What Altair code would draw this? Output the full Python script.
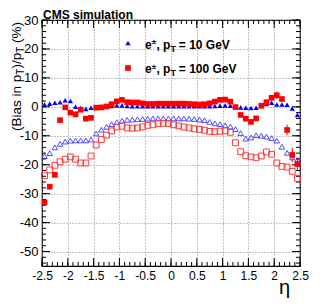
import altair as alt
import pandas as pd

# ---------------- data ----------------
eta = [-2.45, -2.35, -2.25, -2.15, -2.05, -1.95, -1.85, -1.75, -1.65, -1.55,
       -1.45, -1.35, -1.25, -1.15, -1.05, -0.95, -0.85, -0.75, -0.65, -0.55,
       -0.45, -0.35, -0.25, -0.15, -0.05, 0.05, 0.15, 0.25, 0.35, 0.45,
       0.55, 0.65, 0.75, 0.85, 0.95, 1.05, 1.15, 1.25, 1.35, 1.45,
       1.55, 1.65, 1.75, 1.85, 1.95, 2.05, 2.15, 2.25, 2.35, 2.45]

bias_10 = [0.8, 1.1, 1.4, 1.6, 2.3, 2.0, 0.0, -0.4, -0.7, -0.3,
           -0.2, 0.0, 0.2, 0.3, 0.5, 0.5, 0.3, 0.2, 0.2, 0.2,
           0.2, 0.2, 0.2, 0.2, 0.2, 0.2, 0.2, 0.2, 0.2, 0.2,
           0.2, 0.2, 0.2, 0.3, 0.4, 0.5, 0.4, 0.1, -0.2, -0.3,
           -0.4, -0.3, 0.3, 1.0, 1.4, 0.8, 0.8, 0.7, -0.6, -2.8]

bias_100 = [-33.0, -27.6, -23.5, -4.6, -0.2, -2.0, -2.6, -1.0, -4.1, -3.8,
            -0.3, -0.2, 0.1, 0.9, 1.9, 2.4, 1.6, 1.5, 1.5, 1.2,
            1.0, 1.0, 1.1, 1.1, 1.1, 1.1, 1.1, 1.1, 1.0, 0.9,
            0.8, 0.9, 1.2, 1.8, 2.4, 2.5, 1.8, -0.1, -2.8, -4.1,
            -5.2, -4.0, 0.4, 1.6, 3.1, 4.0, 2.7, -8.0, -16.6, -19.8]

err_100 = [0.0, 0.0, 0.0, 0.0, 0.0, 0.8, 1.0, 0.0, 0.6, 0.0,
           0.0, 0.0, 0.0, 0.0, 0.0, 0.0, 0.0, 0.0, 0.0, 0.0,
           0.0, 0.0, 0.0, 0.0, 0.0, 0.0, 0.0, 0.0, 0.0, 0.0,
           0.0, 0.0, 0.0, 0.0, 0.0, 0.0, 0.0, 0.0, 0.0, 0.0,
           0.0, 0.0, 0.0, 0.0, 0.0, 1.3, 0.8, 1.8, 2.5, 2.2]

bias_10_open = [-17.0, -16.0, -14.0, -12.8, -12.0, -11.7, -11.6, -11.6, -11.6, -11.3,
                -9.2, -7.9, -6.9, -6.0, -5.3, -4.8, -4.5, -4.4, -4.3, -4.2,
                -4.1, -4.0, -4.0, -4.0, -4.0, -4.0, -4.0, -4.0, -4.1, -4.2,
                -4.4, -4.6, -5.2, -5.7, -6.0, -6.4, -6.8, -7.7, -9.1, -11.0,
                -10.6, -9.8, -10.0, -10.3, -10.8, -11.7, -13.8, -15.9, -17.5, -18.3]

bias_100_open = [-23.8, -21.8, -20.2, -19.0, -18.1, -17.3, -18.1, -19.4, -19.4, -17.0,
                 -13.2, -11.3, -9.8, -8.3, -7.0, -6.7, -7.3, -7.4, -7.3, -6.9,
                 -6.4, -6.2, -5.8, -5.7, -5.8, -6.2, -6.6, -7.0, -7.3, -7.6,
                 -7.8, -8.1, -8.5, -8.6, -8.4, -8.3, -8.8, -12.4, -15.5, -16.9,
                 -17.3, -17.6, -17.0, -15.6, -16.4, -19.4, -20.6, -20.8, -22.3, -24.7]

x_major = [-2.5, -2.0, -1.5, -1.0, -0.5, 0.0, 0.5, 1.0, 1.5, 2.0, 2.5]
y_major = [-50, -40, -30, -20, -10, 0, 10, 20, 30]
x_minor = [round(-2.5 + 0.1 * i, 2) for i in range(51)]
y_minor = list(range(-54, 31, 2))

# ---------------- layout ----------------
W, H = 258, 246
FONT = "Liberation Sans"

df = pd.DataFrame({"eta": eta, "b10": bias_10, "b100": bias_100, "err": err_100,
                   "b10o": bias_10_open, "b100o": bias_100_open})
df["lo"] = df["b100"] - df["err"]
df["hi"] = df["b100"] + df["err"]

xs = alt.Scale(domain=[-2.5, 2.5], nice=False, zero=False)
ys = alt.Scale(domain=[-55, 30], nice=False, zero=False)

x_axis = alt.Axis(values=x_major, labelExpr="datum.value + ''", grid=True,
                  gridDash=[1, 2], gridColor="#8a8a8a", gridWidth=1,
                  ticks=False, domain=False, labelFont=FONT, labelFontSize=12,
                  labelColor="black", labelPadding=4, labelFlush=False,
                  labelOverlap=False, title=None)
y_axis = alt.Axis(values=y_major, labelExpr="datum.value + ''", grid=True,
                  gridDash=[1, 2], gridColor="#8a8a8a", gridWidth=1,
                  ticks=False, domain=False, labelFont=FONT, labelFontSize=13,
                  labelColor="black", labelPadding=4, labelFlush=False,
                  labelOverlap=False, title=None)

X = lambda f: alt.X(f, type="quantitative", scale=xs, axis=x_axis)
Y = lambda f: alt.Y(f, type="quantitative", scale=ys, axis=y_axis)

base = alt.Chart(df)

open_tri = base.mark_point(shape="triangle-up", filled=False, size=30,
                           strokeWidth=0.9, color="#3b3bff", opacity=1).encode(
    x=X("eta"), y=Y("b10o"))
open_sq = base.mark_point(shape="square", filled=False, size=34,
                          strokeWidth=1, color="#ff3a3a", opacity=1).encode(
    x=X("eta"), y=Y("b100o"))
fill_tri = base.mark_point(shape="triangle-up", filled=True, size=28,
                           color="#0000ff", opacity=1).encode(
    x=X("eta"), y=Y("b10"))
errs = base.transform_filter("datum.err > 0").mark_rule(
    color="#ff0000", strokeWidth=1).encode(x=X("eta"), y=Y("lo"), y2="hi")
fill_sq = base.mark_square(size=32, color="#ff0000", opacity=1).encode(
    x=X("eta"), y=Y("b100"))

# inward ticks on all four sides
def xticks(vals, length):
    d = alt.Chart(pd.DataFrame({"v": vals}))
    b = d.mark_rule(color="black", strokeWidth=1).encode(
        x=X("v"), y=alt.value(H), y2=alt.value(H - length))
    t = d.mark_rule(color="black", strokeWidth=1).encode(
        x=X("v"), y=alt.value(0), y2=alt.value(length))
    return [b, t]

def yticks(vals, length):
    d = alt.Chart(pd.DataFrame({"v": vals}))
    l = d.mark_rule(color="black", strokeWidth=1).encode(
        y=Y("v"), x=alt.value(0), x2=alt.value(length))
    r = d.mark_rule(color="black", strokeWidth=1).encode(
        y=Y("v"), x=alt.value(W), x2=alt.value(W - length))
    return [l, r]

ticks = xticks(x_major, 8) + xticks(x_minor, 4) + yticks(y_major, 8) + yticks(y_minor, 4)

one = pd.DataFrame({"a": [0]})

def txt(s, x, y, size, bold=False, angle=0, align="left"):
    return alt.Chart(one).mark_text(
        text=s, font=FONT, fontSize=size, fontWeight="bold" if bold else "normal",
        align=align, baseline="alphabetic", angle=angle, color="black").encode(
        x=alt.value(x), y=alt.value(y))

texts = []
# header
texts.append(txt("CMS simulation", 1, -1, 12, bold=True))
# y title with subscripts (rotated, reading upward)
y0 = 111
texts.append(txt("(Bias in p", -21.5, y0, 13.5, angle=270))
texts.append(txt("T", -18.5, y0 - 56.3, 10, angle=270))
texts.append(txt(")/p", -21.5, y0 - 62.4, 13.5, angle=270))
texts.append(txt("T", -18.5, y0 - 78.2, 10, angle=270))
texts.append(txt("(%)", -21.5, y0 - 88.0, 13.5, angle=270))
# x title
texts.append(txt("η", 248, 274, 20, align="right"))

# legend
legend_rows = [("10", 28.5, 23.0), ("100", 53.0, 48.0)]
for label, yb, ym in legend_rows:
    texts.append(txt("e", 103, yb, 12, bold=True))
    texts.append(txt("±", 109.7, yb - 4.5, 8, bold=True))
    texts.append(txt(", p", 114.4, yb, 12, bold=True))
    texts.append(txt("T", 128.4, yb + 3, 9, bold=True))
    texts.append(txt("= " + label + " GeV", 136.8, yb, 12, bold=True))

leg_tri = alt.Chart(one).mark_point(shape="triangle-up", filled=True, size=28,
                                    color="#0000ff", opacity=1).encode(
    x=alt.value(86), y=alt.value(legend_rows[0][2]))
leg_sq = alt.Chart(one).mark_square(size=32, color="#ff0000", opacity=1).encode(
    x=alt.value(86), y=alt.value(legend_rows[1][2]))

chart = alt.layer(
    open_tri, *ticks, open_sq, fill_tri, errs, fill_sq, leg_tri, leg_sq, *texts
).properties(
    width=W, height=H,
    autosize=alt.AutoSizeParams(type="none"),
    padding={"left": 34, "top": 12, "right": 14, "bottom": 34},
    background="white",
).configure_view(stroke="black", strokeWidth=1.2)

chart.save("out.html", embed_options={"renderer": "svg", "actions": False})
